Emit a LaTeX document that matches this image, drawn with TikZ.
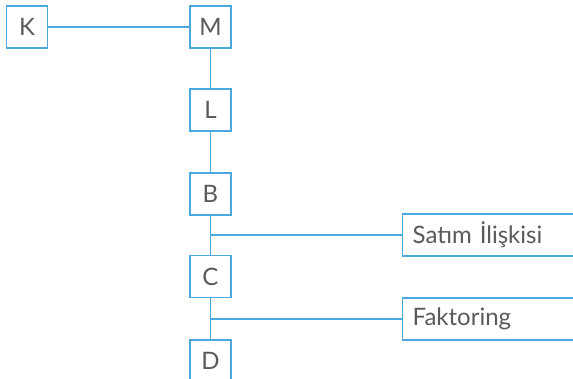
\documentclass[tikz,border=0pt]{standalone}
\usepackage{fontspec}
\setmainfont{Lato}
\definecolor{lineblue}{HTML}{4AA8DC}
\definecolor{txtgray}{HTML}{5A5A5A}
\tikzset{
  box/.style={draw=lineblue, line width=1.3pt, fill=white, minimum width=41pt, minimum height=42pt, inner sep=0pt, text=txtgray, font=\fontsize{24}{26}\selectfont},
  wide/.style={box, anchor=west, text width=172pt, align=left, inner xsep=10pt, minimum width=192pt},
  conn/.style={draw=lineblue, line width=1.3pt}
}
\begin{document}
\begin{tikzpicture}[x=1pt,y=-1pt]
\useasboundingbox (0,0) rectangle (573,379);
\clip (0,0) rectangle (573,379);
\node[box] (K) at (27,27) {K};
\node[box] (M) at (210.5,27) {M};
\node[box] (L) at (210.5,110) {L};
\node[box] (B) at (210.5,194) {B};
\node[box] (C) at (210.5,276.5) {C};
\node[box] (D) at (210.5,361) {D};
\node[wide] (S) at (402,235) {Satım İlişkisi};
\node[wide] (F) at (402,319) {Faktoring};
\coordinate (j1) at (B.south |- S.west);
\coordinate (j2) at (C.south |- F.west);
\draw[conn] (K.east) -- (M.west);
\draw[conn] (M.south) -- (L.north);
\draw[conn] (L.south) -- (B.north);
\draw[conn] (B.south) -- (C.north);
\draw[conn] (C.south) -- (D.north);
\draw[conn] (j1) -- (S.west);
\draw[conn] (j2) -- (F.west);
\end{tikzpicture}
\end{document}
